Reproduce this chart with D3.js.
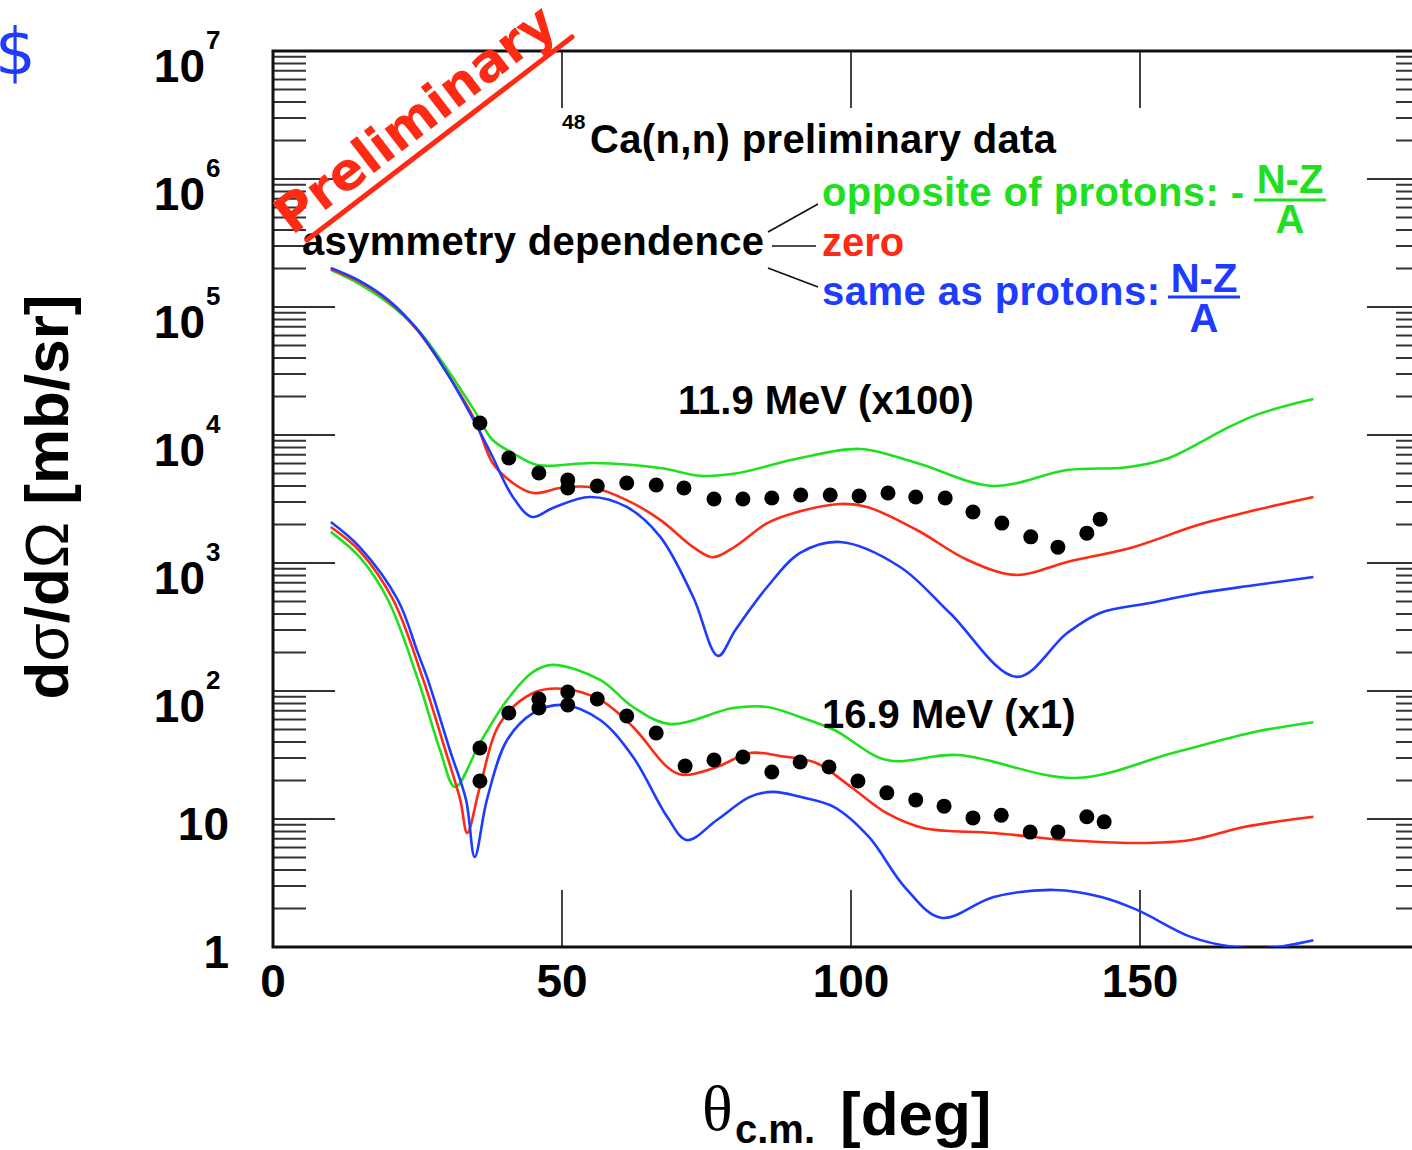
<!DOCTYPE html>
<html>
<head>
<meta charset="utf-8">
<script src="https://cdn.jsdelivr.net/npm/d3@7"></script>
<style>
  body { margin: 0; background: #fff; }
</style>
</head>
<body>
<div id="chart"></div>
<script>
// ---- data ----
// theta (deg) and dsigma/dOmega (mb/sr); 11.9 MeV set is already scaled x100
var green119Theta = [10,15,20,25,30,35,38,41.5,45.7,55.4,67,74,80,91.2,101.6,111.4,124.6,137.4,147.8,155,160,165,170,175,180];
var green119Val   = [195000,151000,107000,67000,33400,15100,9140,7230,5830,6040,5520,4800,5000,6610,7780,6040,4000,5330,5600,6610,8530,11300,14300,16800,19100];

var red119Theta = [10,15,20,25,30,35,38,41.5,45,49.7,54.8,61.2,67,72.7,76.1,80,85.5,90,98.1,102.8,111.4,120.1,128.7,137.4,148.8,160,170,180];
var red119Val   = [198000,157000,111000,65500,31000,12900,6040,4220,3520,3850,3920,3100,2170,1330,1110,1350,2050,2450,2890,2740,1810,1060,805,1020,1330,1980,2590,3280];

var blue119Theta = [10,15,20,25,30,35,38,41.5,44.8,48.4,54.8,61.2,67,72.7,77,80,85.5,91.2,98.1,108.5,117.1,128.7,137.4,143.1,151.7,160.4,170,180];
var blue119Val   = [202000,160000,113000,66500,31000,12400,6730,3280,2290,2690,3280,2740,1600,542,188,300,649,1200,1460,931,407,129,284,407,487,583,673,778];

var green169Theta = [10,15,19.9,25.1,28.9,31.5,35.8,40.5,45,48.4,56.6,62.3,68.7,79.6,85.5,91.2,97.1,106.2,118.5,138.9,155.7,170,180];
var green169Val   = [1750,1110,514,122,34.6,17.8,39.2,85.1,141,160,122,75,55.2,73.6,75,62.6,49.6,28.9,31.6,20.9,32.8,48,57];

var red169Theta = [10,15,20.8,26,29.8,32.4,33.6,35.8,39.3,45,50.2,56.6,62.3,68.2,70.9,76.8,82.5,87.7,94,100,106.2,112.5,124.7,137.2,149.5,158.8,168,180];
var red169Val   = [1910,1240,514,122,34.6,14.1,7.78,17.8,56.2,96.5,104,85.1,52.3,25.5,22.1,25.5,32.8,31.1,27.4,17.8,11.1,8.51,7.78,6.85,6.49,6.85,8.66,10.4];

var blue169Theta = [10,15,21.6,25,26.8,30.6,33.4,34.9,37,40.5,45,50.2,56.6,62.3,68.2,71.6,76.8,82.5,86.5,91.2,97.1,103.1,109.3,115.6,124.7,135.3,143.3,149.5,158.8,166.3,172,180];
var blue169Val   = [2090,1330,514,202,122,34.6,14.1,5.05,14.1,41.4,67.3,77.8,59.3,30.5,10.4,6.85,9.82,14.9,16.3,14.9,12.4,7.24,2.94,1.69,2.46,2.79,2.46,1.95,1.20,1.0,0.98,1.13];

// measured points
var data119Theta = [35.8,40.8,46.0,51.0,51.0,56.1,61.2,66.3,71.1,76.3,81.3,86.3,91.3,96.4,101.4,106.4,111.2,116.3,121.1,126.1,131.1,135.8,140.8,143.1];
var data119Val   = [12400,6610,5050,4450,3850,4000,4220,4070,3850,3160,3160,3220,3400,3400,3340,3520,3280,3220,2500,2050,1600,1330,1710,2200];

var data169Theta = [35.8,35.8,40.8,46.0,46.0,51.0,51.0,56.1,61.2,66.3,71.3,76.3,81.3,86.3,91.2,96.2,101.2,106.2,111.2,116.1,121.1,126.0,131.0,135.8,140.8,143.8];
var data169Val   = [35.9,19.8,67.3,86.6,73.6,98.2,77.8,86.6,63.8,47.0,25.9,28.9,30.5,23.3,27.9,25.5,19.8,16.0,14.1,12.6,10.2,10.7,7.9,7.9,10.4,9.5];

var xTicks = [50,100,150];
var xLabels = [0,50,100,150];

var GREEN = "#1fe01f", RED = "#ff2a14", BLUE = "#1e3cff";

// ---- frame ----
var plot = {left: 273, right: 1429, top: 51, bottom: 947};

var svg = d3.select("#chart")
    .append("svg")
        .attr("width", 1412)
        .attr("height", 1150)
        .style("font-family", "'Liberation Sans', Arial, sans-serif");

var x = d3.scaleLinear().domain([0, 200]).range([plot.left, plot.right]);
var y = d3.scaleLog().domain([1, 1e7]).range([plot.bottom, plot.top]);

svg.append("clipPath").attr("id", "plotclip")
    .append("rect")
        .attr("x", plot.left).attr("y", plot.top)
        .attr("width", plot.right - plot.left).attr("height", plot.bottom - plot.top);

// y ticks, both sides
y.ticks().forEach(function(t){
    var lg = Math.log10(t);
    var major = Math.abs(lg - Math.round(lg)) < 1e-9;
    var len = major ? 62 : 33;
    svg.append("line")
        .attr("x1", plot.left).attr("x2", plot.left + len)
        .attr("y1", y(t)).attr("y2", y(t))
        .attr("stroke", "#333").attr("stroke-width", 2);
    svg.append("line")
        .attr("x1", plot.right).attr("x2", plot.right - len)
        .attr("y1", y(t)).attr("y2", y(t))
        .attr("stroke", "#333").attr("stroke-width", 2);
});

// x ticks, bottom and top
xTicks.forEach(function(t){
    svg.append("line")
        .attr("x1", x(t)).attr("x2", x(t))
        .attr("y1", plot.bottom).attr("y2", plot.bottom - 57)
        .attr("stroke", "#444").attr("stroke-width", 2);
    svg.append("line")
        .attr("x1", x(t)).attr("x2", x(t))
        .attr("y1", plot.top).attr("y2", plot.top + 57)
        .attr("stroke", "#444").attr("stroke-width", 2);
});

// frame lines (right edge falls outside the picture)
svg.append("path")
    .attr("d", "M" + plot.right + "," + plot.top + "H" + plot.left + "V" + plot.bottom + "H" + plot.right)
    .attr("fill", "none").attr("stroke", "#111").attr("stroke-width", 3);

// x tick labels
svg.selectAll(".xlab")
    .data(xLabels)
    .enter()
    .append("text")
    .attr("class", "xlab")
    .attr("x", function(d){ return x(d); })
    .attr("y", 997)
    .attr("text-anchor", "middle")
    .attr("font-size", 46)
    .attr("font-weight", "bold")
    .text(function(d){ return d; });

// y tick labels
y.ticks().filter(function(t){
    var lg = Math.log10(t);
    return Math.abs(lg - Math.round(lg)) < 1e-9;
}).forEach(function(t){
    var e = Math.round(Math.log10(t));
    if (e < 2) {
        svg.append("text")
            .attr("x", 229).attr("y", y(t) + 21)
            .attr("text-anchor", "end")
            .attr("font-size", 46).attr("font-weight", "bold")
            .text(e == 0 ? "1" : "10");
    } else {
        svg.append("text")
            .attr("x", 205).attr("y", y(t) + 31)
            .attr("text-anchor", "end")
            .attr("font-size", 46).attr("font-weight", "bold")
            .text("10");
        svg.append("text")
            .attr("x", 206).attr("y", y(t) - 2)
            .attr("font-size", 26).attr("font-weight", "bold")
            .text(e);
    }
});

// axis titles
var ytitle = svg.append("text")
    .attr("transform", "translate(68,497) rotate(-90)")
    .attr("text-anchor", "middle")
    .attr("font-size", 62)
    .attr("font-weight", "bold");
ytitle.append("tspan").text("d");
ytitle.append("tspan").attr("font-weight", "normal").text("σ");
ytitle.append("tspan").text("/d");
ytitle.append("tspan").attr("font-weight", "normal").text("Ω");
ytitle.append("tspan").text(" [mb/sr]");

svg.append("text")
    .attr("x", 702).attr("y", 1130)
    .attr("font-family", "'Liberation Serif', 'DejaVu Serif', serif")
    .attr("font-size", 64)
    .text("θ");
svg.append("text")
    .attr("x", 735).attr("y", 1143)
    .attr("font-size", 40).attr("font-weight", "bold")
    .text("c.m.");
svg.append("text")
    .attr("x", 840).attr("y", 1135)
    .attr("font-size", 62).attr("font-weight", "bold")
    .text("[deg]");

// ---- curves ----
var line = d3.line()
    .x(function(d){ return x(d[0]); })
    .y(function(d){ return y(d[1]); })
    .curve(d3.curveCatmullRom.alpha(0.5));

var curves = [
    {t: green119Theta, v: green119Val, c: GREEN},
    {t: red119Theta,   v: red119Val,   c: RED},
    {t: blue119Theta,  v: blue119Val,  c: BLUE},
    {t: green169Theta, v: green169Val, c: GREEN},
    {t: red169Theta,   v: red169Val,   c: RED},
    {t: blue169Theta,  v: blue169Val,  c: BLUE}
];

var gCurves = svg.append("g").attr("clip-path", "url(#plotclip)");
curves.forEach(function(cv){
    var pts = cv.t.map(function(t, i){ return [t, cv.v[i]]; });
    gCurves.append("path")
        .attr("d", line(pts))
        .attr("fill", "none")
        .attr("stroke", cv.c)
        .attr("stroke-width", 2.6);
});

// measured points
var dots = data119Theta.map(function(t, i){ return [t, data119Val[i]]; })
    .concat(data169Theta.map(function(t, i){ return [t, data169Val[i]]; }));
svg.selectAll(".dot")
    .data(dots)
    .enter()
    .append("circle")
    .attr("class", "dot")
    .attr("cx", function(d){ return x(d[0]); })
    .attr("cy", function(d){ return y(d[1]); })
    .attr("r", 7.5)
    .attr("fill", "#000");

// ---- annotations ----
svg.append("text")
    .attr("x", 562).attr("y", 129)
    .attr("font-size", 21).attr("font-weight", "bold")
    .text("48");
svg.append("text")
    .attr("x", 590).attr("y", 153)
    .attr("font-size", 40).attr("font-weight", "bold")
    .attr("textLength", 466)
    .text("Ca(n,n) preliminary data");

svg.append("text")
    .attr("x", 302).attr("y", 255)
    .attr("font-size", 40).attr("font-weight", "bold")
    .attr("textLength", 462)
    .text("asymmetry dependence");

// connectors
[[768,232,818,204],[772,246,816,246],[768,268,818,287]].forEach(function(l){
    svg.append("line")
        .attr("x1", l[0]).attr("y1", l[1]).attr("x2", l[2]).attr("y2", l[3])
        .attr("stroke", "#111").attr("stroke-width", 1.6);
});

svg.append("text")
    .attr("x", 822).attr("y", 206)
    .attr("font-size", 40).attr("font-weight", "bold").attr("fill", GREEN)
    .attr("textLength", 422)
    .text("opposite of protons: -");
svg.append("text")
    .attr("x", 822).attr("y", 256)
    .attr("font-size", 40).attr("font-weight", "bold").attr("fill", RED)
    .text("zero");
svg.append("text")
    .attr("x", 822).attr("y", 305)
    .attr("font-size", 40).attr("font-weight", "bold").attr("fill", BLUE)
    .attr("textLength", 338)
    .text("same as protons:");

// fractions (N-Z)/A
function fraction(cx, topBase, barY, botBase, color){
    svg.append("text")
        .attr("x", cx).attr("y", topBase)
        .attr("text-anchor", "middle")
        .attr("font-size", 40).attr("font-weight", "bold").attr("fill", color)
        .text("N-Z");
    svg.append("line")
        .attr("x1", cx - 36).attr("x2", cx + 36)
        .attr("y1", barY).attr("y2", barY)
        .attr("stroke", color).attr("stroke-width", 3);
    svg.append("text")
        .attr("x", cx).attr("y", botBase)
        .attr("text-anchor", "middle")
        .attr("font-size", 40).attr("font-weight", "bold").attr("fill", color)
        .text("A");
}
fraction(1290, 193, 200, 233, GREEN);
fraction(1204, 292, 297, 332, BLUE);

svg.append("text")
    .attr("x", 678).attr("y", 414)
    .attr("font-size", 40).attr("font-weight", "bold")
    .text("11.9 MeV (x100)");
svg.append("text")
    .attr("x", 822).attr("y", 728)
    .attr("font-size", 40).attr("font-weight", "bold")
    .text("16.9 MeV (x1)");

// stamp
svg.append("text")
    .attr("transform", "translate(292,236) rotate(-37.6)")
    .attr("font-family", "'DejaVu Sans', sans-serif")
    .attr("font-weight", "bold")
    .attr("font-size", 52)
    .attr("textLength", 338)
    .attr("lengthAdjust", "spacingAndGlyphs")
    .attr("fill", RED)
    .text("Preliminary");
svg.append("line")
    .attr("x1", 307).attr("y1", 240).attr("x2", 572).attr("y2", 37)
    .attr("stroke", RED).attr("stroke-width", 5).attr("stroke-linecap", "round");

svg.append("text")
    .attr("x", -5).attr("y", 74)
    .attr("font-family", "'DejaVu Sans', sans-serif")
    .attr("font-size", 64)
    .attr("fill", BLUE)
    .text("$");
</script>
</body>
</html>
